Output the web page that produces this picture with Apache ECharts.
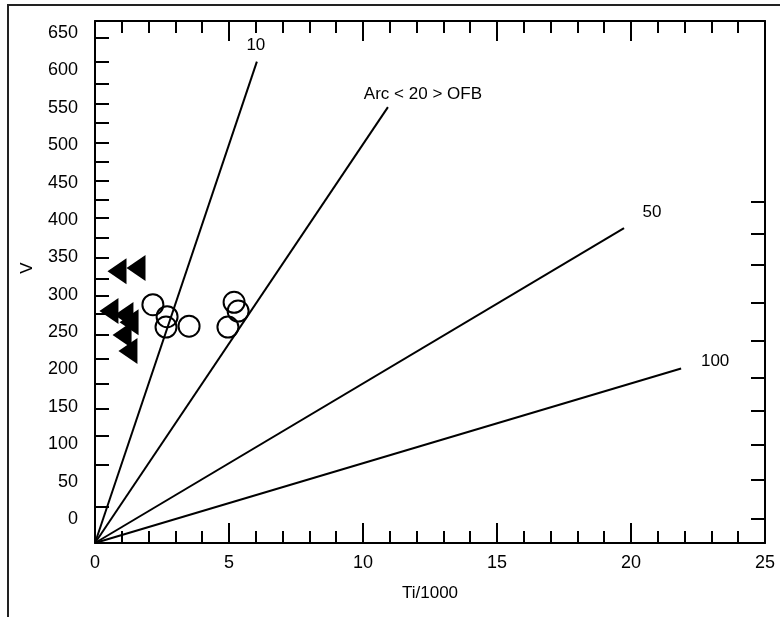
<!DOCTYPE html>
<html>
<head>
<meta charset="utf-8">
<title>Ti/1000 vs V</title>
<script src="https://cdn.jsdelivr.net/npm/echarts@6/dist/echarts.min.js"></script>
<style>
  html, body { margin: 0; padding: 0; background: #fff; }
  #chart { width: 780px; height: 617px; }
</style>
</head>
<body>
<div id="chart"></div>
<script>
// Sample groups (Ti/1000, V)
const triTi = [0.82, 1.53, 0.52, 1.08, 1.27, 1.01, 1.23];
const triV  = [341, 345, 291, 286, 277, 261, 241];
const circTi = [2.16, 2.69, 2.65, 3.51, 5.19, 5.34, 4.96];
const circV  = [299, 284, 271, 272, 302, 291, 271];

// Ti/V reference lines: name, end point (Ti/1000, V)
const ratioNames = ['10', 'Arc < 20 > OFB', '50', '100'];
const ratioEndTi = [6.04, 10.93, 19.74, 21.87];
const ratioEndV  = [604, 547, 395, 219];

// V axis scale labels and tick marks
const vLabels = [0, 50, 100, 150, 200, 250, 300, 350, 400, 450, 500, 550, 600, 650];
const vLeftTicks = [17, 72, 111, 147, 181, 214, 247, 274, 298, 322, 350, 376, 403, 427, 452, 478, 503, 530, 555, 582, 611, 643];
const vRightTicks = [1, 52, 100, 145, 189, 239, 289, 340, 382, 424];

// label placement next to each reference line end
const tagOffsets = [[-1, -16], [35, -13], [28, -16], [34, -7]];

const FONT = 'Liberation Sans, Arial, sans-serif';
const INK = '#000';

const chart = echarts.init(document.getElementById('chart'), null, { renderer: 'canvas' });

const lineSeries = ratioNames.map((n, i) => ({
  type: 'line',
  xAxisIndex: 0,
  yAxisIndex: 0,
  data: [[0, 0], [ratioEndTi[i], ratioEndV[i]]],
  symbol: 'none',
  lineStyle: { color: INK, width: 2 },
  animation: false,
  silent: true,
  z: 2
}));

const tagSeries = {
  type: 'scatter',
  xAxisIndex: 0,
  yAxisIndex: 0,
  symbol: 'circle',
  symbolSize: 1,
  itemStyle: { color: 'rgba(255,255,255,0)', opacity: 1 },
  data: ratioNames.map((n, i) => ({
    value: [ratioEndTi[i], ratioEndV[i]],
    label: {
      show: true,
      position: 'inside',
      offset: tagOffsets[i],
      formatter: n,
      color: INK,
      opacity: 1,
      fontSize: 17,
      fontFamily: FONT
    }
  })),
  animation: false,
  silent: true,
  z: 3
};

const triSeries = {
  type: 'scatter',
  xAxisIndex: 0,
  yAxisIndex: 0,
  symbol: 'triangle',
  symbolRotate: 90,
  symbolSize: [26, 19],
  itemStyle: { color: '#000', opacity: 1 },
  data: triTi.map((t, i) => [t, triV[i]]),
  animation: false,
  z: 4
};

const circSeries = {
  type: 'scatter',
  xAxisIndex: 0,
  yAxisIndex: 0,
  symbol: 'circle',
  symbolSize: 21,
  itemStyle: { color: 'rgba(255,255,255,0)', borderColor: '#000', borderWidth: 2, opacity: 1 },
  data: circTi.map((t, i) => [t, circV[i]]),
  animation: false,
  z: 4
};

const xCommon = {
  type: 'value',
  min: 0,
  max: 25,
  interval: 5,
  axisLine: { show: true, onZero: false, lineStyle: { color: INK, width: 2 } },
  axisTick: { show: true, inside: true, length: 20, lineStyle: { color: INK, width: 2 } },
  minorTick: { show: true, splitNumber: 5, length: 12, lineStyle: { color: INK, width: 2 } },
  splitLine: { show: false },
  minorSplitLine: { show: false }
};

const option = {
  backgroundColor: '#fff',
  animation: false,
  grid: { left: 95, right: 15, top: 21, bottom: 74, containLabel: false },
  xAxis: [
    Object.assign({}, xCommon, {
      position: 'bottom',
      name: 'Ti/1000',
      nameLocation: 'middle',
      nameGap: 42,
      nameTextStyle: { color: INK, fontSize: 17, fontFamily: FONT },
      axisLabel: { show: true, margin: 11, color: INK, fontSize: 18, fontFamily: FONT }
    }),
    Object.assign({}, xCommon, {
      position: 'top',
      axisLabel: { show: false }
    })
  ],
  yAxis: [
    {
      // data scale
      type: 'value',
      min: 0,
      max: 655,
      show: false
    },
    {
      // left scale with V labels
      type: 'value',
      position: 'left',
      min: -32,
      max: 666,
      axisLine: { show: true, onZero: false, lineStyle: { color: INK, width: 2 } },
      axisTick: { show: true, inside: true, length: 14, customValues: vLeftTicks, lineStyle: { color: INK, width: 2 } },
      axisLabel: { show: true, margin: 17, customValues: vLabels, color: INK, fontSize: 18, fontFamily: FONT },
      splitLine: { show: false }
    },
    {
      // right frame side
      type: 'value',
      position: 'right',
      min: -32,
      max: 666,
      axisLine: { show: true, onZero: false, lineStyle: { color: INK, width: 2 } },
      axisTick: { show: true, inside: true, length: 14, customValues: vRightTicks, lineStyle: { color: INK, width: 2 } },
      axisLabel: { show: false },
      splitLine: { show: false }
    }
  ],
  graphic: [
    {
      type: 'polyline',
      shape: { points: [[8, 617], [8, 5], [780, 5]] },
      style: { stroke: '#222', lineWidth: 2, fill: null },
      silent: true
    },
    {
      type: 'text',
      x: 27,
      y: 268,
      rotation: Math.PI / 2,
      style: { text: 'V', fill: INK, fontSize: 17, fontFamily: FONT, align: 'center', verticalAlign: 'middle' },
      silent: true
    }
  ],
  series: [].concat(lineSeries, [tagSeries, triSeries, circSeries])
};

chart.setOption(option);
</script>
</body>
</html>
